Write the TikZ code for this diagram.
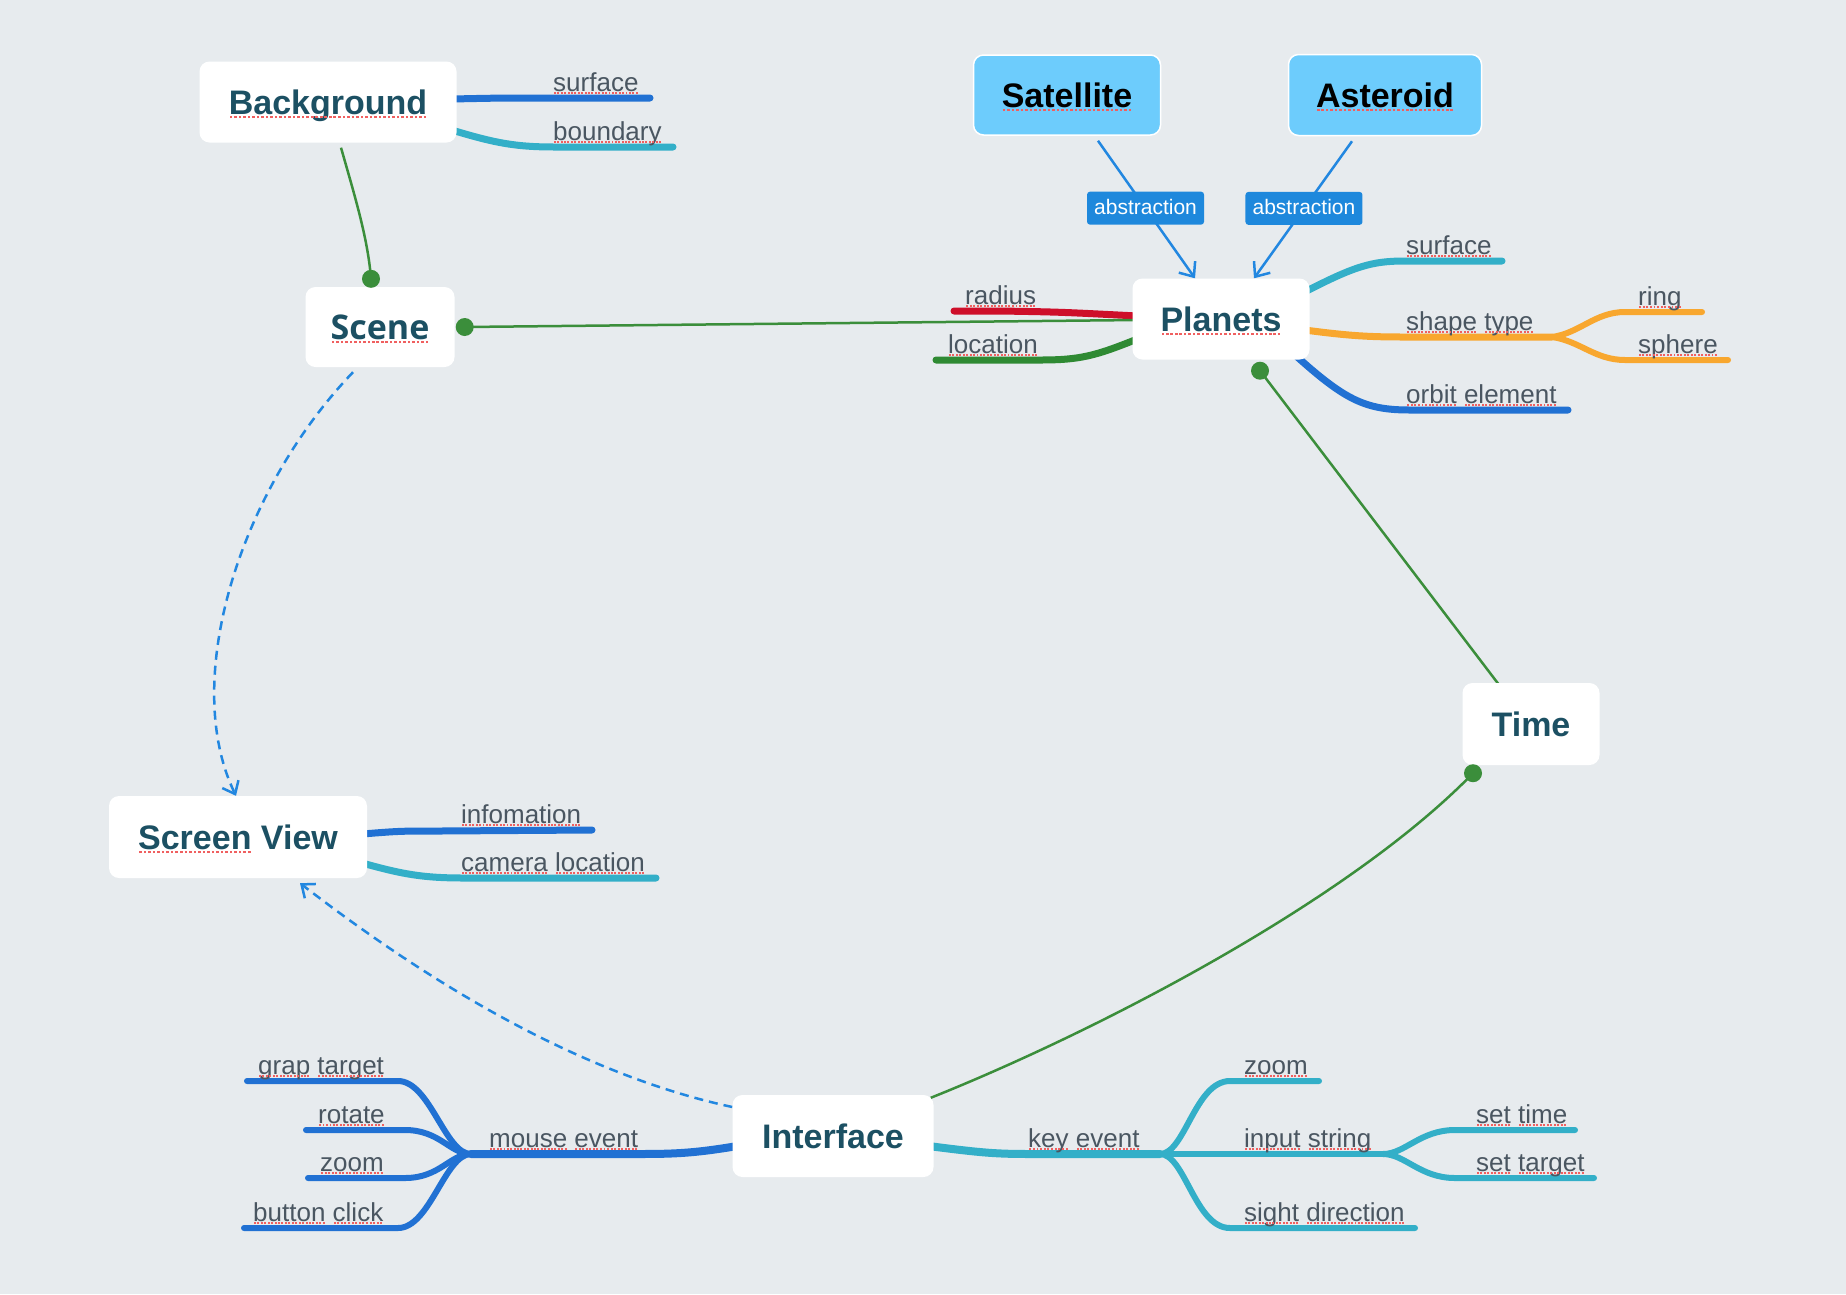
\documentclass[tikz,border=0pt]{standalone}
\usepackage{fontspec}
\setmainfont{Liberation Sans}
\newfontfamily\scenefont{Open Sans}
\usetikzlibrary{arrows.meta,calc}

\definecolor{canvasbg}{HTML}{E7EBEE}
\definecolor{titlecol}{HTML}{1C5063}
\definecolor{leafcol}{HTML}{4A5661}
\definecolor{bluebranch}{HTML}{2171D3}
\definecolor{tealbranch}{HTML}{33AFC8}
\definecolor{orangebranch}{HTML}{F8A72F}
\definecolor{redbranch}{HTML}{CE0F2A}
\definecolor{darkgreenbranch}{HTML}{2F8A33}
\definecolor{linkgreen}{HTML}{3B8E3B}
\definecolor{arrowblue}{HTML}{2287E0}
\definecolor{tagfill}{HTML}{1E88DC}
\definecolor{skyfill}{HTML}{6DCCFC}
\definecolor{spred}{HTML}{F06060}

% dotted red underline under a single word
\newsavebox\spbox
\newcommand\spw[1]{\sbox\spbox{#1}\usebox\spbox\llap{\smash{\raisebox{-0.12em}{\textcolor{spred}{\hbox to \wd\spbox{\xleaders\hbox to 0.13em{\hss\rule{0.075em}{0.075em}\hss}\hfill}}}}}}

\pgfdeclarelayer{canvas}
\pgfdeclarelayer{links}
\pgfsetlayers{canvas,links,main}

\tikzset{
  topic/.style={fill=white, rounded corners=10pt, inner sep=0pt, text=titlecol,
    font=\fontsize{34}{40}\selectfont\bfseries, text height=24.3pt, text depth=0pt},
  floatbox/.style={topic, fill=skyfill, draw=white, line width=1.5pt, text=black},
  tag/.style={fill=tagfill, rounded corners=3pt, text=white, font=\fontsize{21}{25}\selectfont,
    minimum width=117pt, minimum height=33pt, inner sep=0pt, text height=12.5pt, text depth=0pt},
  leaf/.style={anchor=base west, inner sep=0pt, text=leafcol, font=\fontsize{26}{30}\selectfont},
  limb/.style={line width=7pt, line cap=round},
  twig/.style={line width=6pt, line cap=round},
  relation/.style={draw=linkgreen, line width=2.5pt},
  pin/.style={fill=linkgreen},
  absarrow/.style={draw=arrowblue, line width=2.5pt, -{Straight Barb[length=12pt,width=20pt]}},
  dashlink/.style={draw=arrowblue, line width=2.5pt, dash pattern=on 9pt off 6pt,
    -{Straight Barb[length=11pt,width=18pt]}},
}

\begin{document}
\begin{tikzpicture}[x=1pt,y=-1pt]
\useasboundingbox (0,0) rectangle (1846,1294);
\begin{pgfonlayer}{canvas}
  \fill[canvasbg] (0,0) rectangle (1846,1294);
\end{pgfonlayer}

% ---- topics ----
\node[topic, minimum width=257pt, minimum height=81pt] (bg) at (328,102) {\spw{Background}};
\node[topic, minimum width=149pt, minimum height=80pt, font=\fontsize{34}{40}\selectfont\scenefont\bfseries] (scene) at (380,327) {\spw{Scene}};
\node[topic, minimum width=177pt, minimum height=81pt] (planets) at (1221,319) {\spw{Planets}};
\node[floatbox, minimum width=187pt, minimum height=80pt] (sat) at (1067,95) {\spw{Satellite}};
\node[floatbox, minimum width=193pt, minimum height=81pt] (ast) at (1385,95) {\spw{Asteroid}};
\node[topic, minimum width=137pt, minimum height=82pt] (time) at (1531,724) {Time};
\node[topic, minimum width=258pt, minimum height=82pt] (screen) at (238,837) {\spw{Screen} View};
\node[topic, minimum width=201pt, minimum height=82pt] (iface) at (833,1136) {Interface};

% ---- branch ends and hubs ----
\coordinate (bgSurfEnd) at (650,98);
\coordinate (bgBoundEnd) at (673,147);
\coordinate (pSurfEnd) at (1502,261);
\coordinate (shapeHub) at (1552,337);
\coordinate (ringEnd) at (1702,312);
\coordinate (sphereEnd) at (1728,360);
\coordinate (orbitEnd) at (1568,410);
\coordinate (radiusEnd) at (954,311);
\coordinate (locEnd) at (936,360);
\coordinate (infoEnd) at (592,830);
\coordinate (camEnd) at (656,878);
\coordinate (mouseHub) at (471,1154);
\coordinate (grapEnd) at (247,1081);
\coordinate (rotEnd) at (306,1130);
\coordinate (mzoomEnd) at (308,1178);
\coordinate (clickEnd) at (244,1228);
\coordinate (keyHub) at (1160,1154);
\coordinate (kzoomEnd) at (1319,1081);
\coordinate (inputHub) at (1383,1154);
\coordinate (sightEnd) at (1415,1228);
\coordinate (stimeEnd) at (1575,1130);
\coordinate (stargetEnd) at (1594,1178);

\begin{pgfonlayer}{links}
  % Background branches
  \draw[limb, bluebranch] ($(bg.east)+(-5,-3)$) .. controls (500,98) .. (540,98) -- (bgSurfEnd);
  \draw[limb, tealbranch] ($(bg.east)+(-5,28)$) .. controls (495,143) and (515,147) .. (555,147) -- (bgBoundEnd);
  % Planets branches
  \draw[limb, tealbranch] ($(planets.east)+(-5,-27)$) .. controls (1355,266) and (1372,261) .. (1405,261) -- (pSurfEnd);
  \draw[limb, orangebranch] ($(planets.east)+(-5,11)$) .. controls (1350,336) and (1370,337) .. (1405,337) -- (shapeHub);
  \draw[twig, orangebranch] (shapeHub) .. controls (1580,333) and (1595,312) .. (1625,312) -- (ringEnd);
  \draw[twig, orangebranch] (shapeHub) .. controls (1580,341) and (1595,360) .. (1625,360) -- (sphereEnd);
  \draw[limb, bluebranch] ($(planets.south east)+(-15,-5)$) .. controls (1345,400) and (1365,410) .. (1410,410) -- (orbitEnd);
  \draw[limb, redbranch] ($(planets.west)+(5,-3)$) .. controls (1060,312) .. (1000,311) -- (radiusEnd);
  \draw[limb, darkgreenbranch] ($(planets.west)+(5,20)$) .. controls (1095,356) and (1080,360) .. (1040,360) -- (locEnd);
  % Screen View branches
  \draw[limb, bluebranch] ($(screen.east)+(-5,-3)$) .. controls (400,831) .. (440,831) -- (infoEnd);
  \draw[limb, tealbranch] ($(screen.east)+(-5,26)$) .. controls (405,875) and (425,878) .. (465,878) -- (camEnd);
  % Interface branches
  \draw[line width=8pt, line cap=round, bluebranch] ($(iface.west)+(5,10)$) .. controls (690,1154) and (670,1154) .. (630,1154) -- (mouseHub);
  \draw[twig, bluebranch] (mouseHub) .. controls (445,1154) and (430,1081) .. (398,1081) -- (grapEnd);
  \draw[twig, bluebranch] (mouseHub) .. controls (450,1154) and (440,1130) .. (405,1130) -- (rotEnd);
  \draw[twig, bluebranch] (mouseHub) .. controls (450,1154) and (440,1178) .. (405,1178) -- (mzoomEnd);
  \draw[twig, bluebranch] (mouseHub) .. controls (445,1154) and (430,1228) .. (398,1228) -- (clickEnd);
  \draw[line width=8pt, line cap=round, tealbranch] ($(iface.east)+(-5,10)$) .. controls (990,1154) and (1000,1154) .. (1040,1154) -- (keyHub);
  \draw[twig, tealbranch] (keyHub) .. controls (1185,1154) and (1195,1081) .. (1230,1081) -- (kzoomEnd);
  \draw[twig, tealbranch] (keyHub) -- (inputHub);
  \draw[twig, tealbranch] (keyHub) .. controls (1185,1154) and (1195,1228) .. (1230,1228) -- (sightEnd);
  \draw[twig, tealbranch] (inputHub) .. controls (1405,1154) and (1420,1130) .. (1455,1130) -- (stimeEnd);
  \draw[twig, tealbranch] (inputHub) .. controls (1405,1154) and (1420,1178) .. (1455,1178) -- (stargetEnd);

  % relations between topics
  \draw[relation] ($(bg.south)+(13,5)$) .. controls (356,200) and (368,240) .. ($(scene.north)+(-9,-8)$);
  \draw[relation] ($(scene.east)+(10,0)$) -- ($(planets.west)+(5,1)$);
  \draw[relation] ($(planets.south)+(39,11)$) -- ($(time.north)+(-32,2)$);
  \draw[relation] ($(time.south)+(-58,8)$) .. controls (1350,900) and (1100,1030) .. ($(iface.north east)+(-3,3)$);

  % abstraction arrows
  \draw[absarrow] ($(sat.south)+(31,5)$) -- node[tag, pos=0.49] (absA) {abstraction} ($(planets.north)+(-26,0)$);
  \draw[absarrow] ($(ast.south)+(-33,5)$) -- node[tag, pos=0.49] (absB) {abstraction} ($(planets.north)+(33,0)$);

  % dashed flows into the screen view
  \draw[dashlink] ($(scene.south)+(-27,5)$) .. controls (240,490) and (180,680) .. ($(screen.north)+(-2,0)$);
  \draw[dashlink] ($(iface.west)+(0,-29)$) .. controls (560,1070) and (400,960) .. ($(screen.south)+(62,5)$);
\end{pgfonlayer}

% relation end dots
\fill[pin] ($(scene.north)+(-9,-8)$) circle[radius=9pt];
\fill[pin] ($(scene.east)+(10,0)$) circle[radius=9pt];
\fill[pin] ($(planets.south)+(39,11)$) circle[radius=9pt];
\fill[pin] ($(time.south)+(-58,8)$) circle[radius=9pt];

% ---- branch labels ----
\node[leaf] (tBgSurface) at (553,91) {\spw{surface}};
\node[leaf] (tBoundary) at (553,140) {\spw{boundary}};
\node[leaf] (tRadius) at (965,304) {\spw{radius}};
\node[leaf] (tLocation) at (948,353) {\spw{location}};
\node[leaf] (tPSurface) at (1406,254) {\spw{surface}};
\node[leaf] (tShape) at (1406,330) {\spw{shape} \spw{type}};
\node[leaf] (tRing) at (1638,305) {\spw{ring}};
\node[leaf] (tSphere) at (1638,353) {\spw{sphere}};
\node[leaf] (tOrbit) at (1406,403) {\spw{orbit} \spw{element}};
\node[leaf] (tInfo) at (461,823) {\spw{infomation}};
\node[leaf] (tCamera) at (461,871) {\spw{camera} \spw{location}};
\node[leaf] (tMouse) at (489,1147) {\spw{mouse} \spw{event}};
\node[leaf] (tGrap) at (258,1074) {\spw{grap} \spw{target}};
\node[leaf] (tRotate) at (318,1123) {\spw{rotate}};
\node[leaf] (tMZoom) at (320,1171) {\spw{zoom}};
\node[leaf] (tClick) at (253,1221) {\spw{button} \spw{click}};
\node[leaf] (tKey) at (1028,1147) {\spw{key} \spw{event}};
\node[leaf] (tKZoom) at (1244,1074) {\spw{zoom}};
\node[leaf] (tInput) at (1244,1147) {\spw{input} \spw{string}};
\node[leaf] (tSight) at (1244,1221) {\spw{sight} \spw{direction}};
\node[leaf] (tSetTime) at (1476,1123) {\spw{set} \spw{time}};
\node[leaf] (tSetTarget) at (1476,1171) {\spw{set} \spw{target}};
\end{tikzpicture}
\end{document}
